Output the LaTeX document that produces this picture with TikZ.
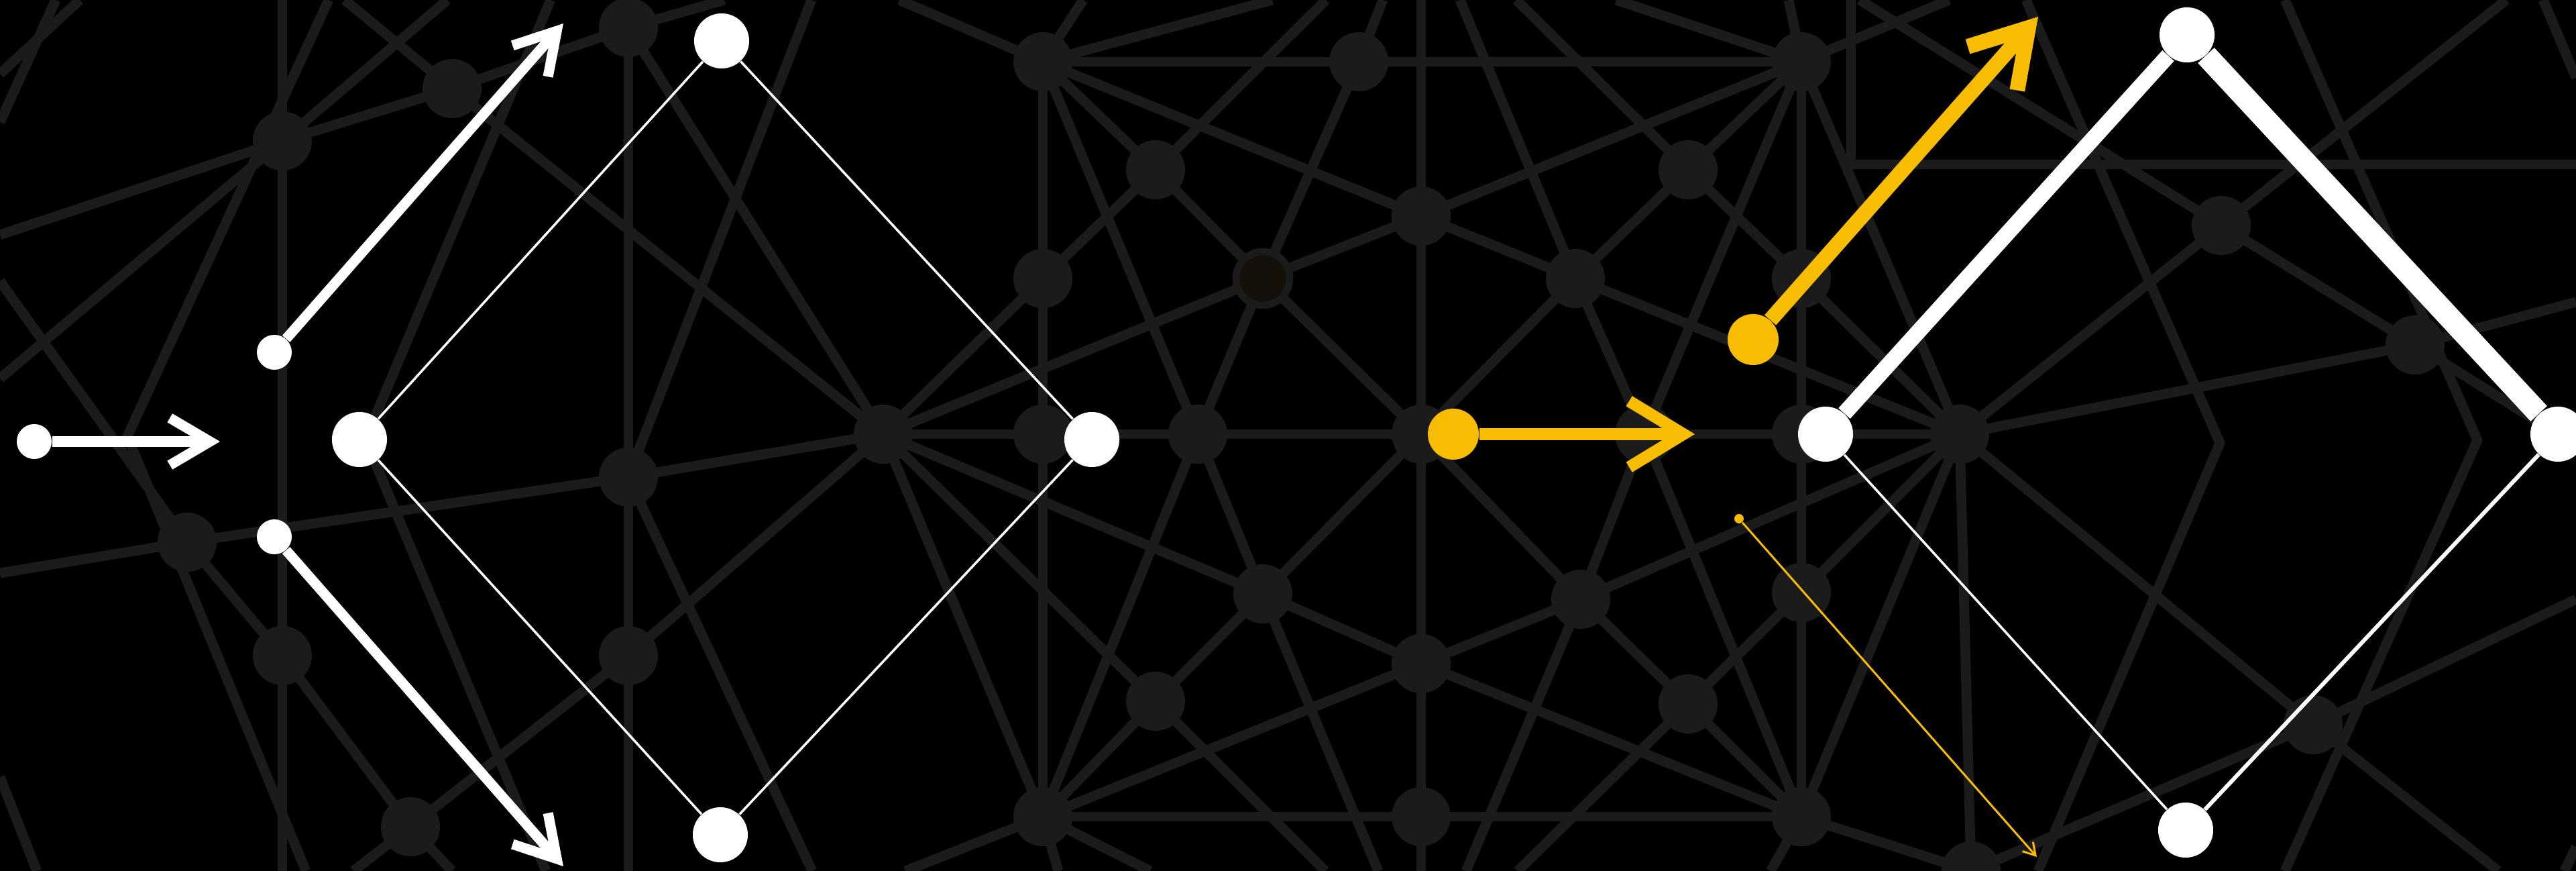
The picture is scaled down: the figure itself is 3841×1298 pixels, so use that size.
\documentclass[tikz,border=0pt]{standalone}
\usetikzlibrary{arrows.meta}
\definecolor{meshgray}{HTML}{1B1B1B}
\definecolor{meshbrown}{HTML}{15110A}
\definecolor{amber}{HTML}{F8BC00}
\begin{document}
\begin{tikzpicture}[x=0.01cm, y=-0.01cm,
    mesh/.style={draw=meshgray, line width=4.2pt, line join=round},
    knot/.style={circle, fill=meshgray, inner sep=0pt, minimum size=0.88cm},
    dot/.style={circle, fill=white, inner sep=0pt, minimum size=#1},
    amberdot/.style={circle, fill=amber, inner sep=0pt, minimum size=#1},
    whitearrow/.style={draw=white, line width=4.3pt, -{Straight Barb[length=17pt, width=20pt]}},
    amberarrow/.style={draw=amber, line width=#1, -{Straight Barb[length=23pt, width=28pt]}}]

    % Background
    \fill[black] (0,0) rectangle (3841,1298);
    \clip (0,0) rectangle (3841,1298);

    % Mesh points
    \foreach \n/\x/\y in {a/421/210, b/674/132, c/937/41, d/279/808, e/421/977,
        f/612/1232, h/937/711, i/937/977, g/1317/647,
        n1/1555/92, n2/2026/92, n3/1723/253, n4/2119/322, n5/1555/415,
        n6/1883/415, n7/2349/415, n8/2517/253, n9/1555/647, n10/1786/647,
        hub/2119/647, p/2452/647, n12/1883/885, n13/2119/989, n14/2357/893,
        n15/1723/1045, n16/2517/1049, n17/1555/1217, n18/2119/1217,
        n19/2686/92, n20/2686/415, n21/2686/647, n22/2922/647, n23/2686/883,
        n24/2686/1217, n26/3312/336, n27/3601/514, n28/3449/1080, n29/2939/1298}
        \coordinate (\n) at (\x,\y);

    % Mesh, left part
    \draw[mesh] (0,110) -- (119,0);
    \draw[mesh] (0,182) -- (83,0);
    \draw[mesh] (0,350) -- (a) -- (b) -- (c) -- (1080,0);
    \draw[mesh] (421,0) -- (421,1298);
    \draw[mesh] (937,0) -- (937,1298);
    \draw[mesh] (0,564) -- (a) -- (667,0);
    \draw[mesh] (490,0) -- (190,650) -- (456,1298);
    \draw[mesh] (0,419) -- (d) -- (e) -- (f) -- (674,1298);
    \draw[mesh] (514,0) -- (b) -- (g);
    \draw[mesh] (821,0) -- (545,655) -- (814,1298);
    \draw[mesh] (c) -- (g);
    \draw[mesh] (1210,0) -- (h) -- (1211,1298);
    \draw[mesh] (0,854) -- (d) -- (h) -- (g);
    \draw[mesh] (527,1298) -- (f) -- (i) -- (g);
    \draw[mesh] (0,1158) -- (55,1298);

    % Mesh, middle part
    \draw[mesh] (g) -- (n22);
    \draw[mesh] (n1) -- (n19);
    \draw[mesh] (2760,0) -- (2760,245) -- (3841,245);
    \draw[mesh] (n1) -- (n17);
    \draw[mesh] (2119,0) -- (2119,1298);
    \draw[mesh] (n19) -- (n24);
    \draw[mesh] (n17) -- (n24);
    \draw[mesh] (n1) -- (n3) -- (n6) -- (hub) -- (n14) -- (n16) -- (n24);
    \draw[mesh] (n19) -- (n8) -- (n7) -- (hub) -- (n12) -- (n15) -- (n17);
    \draw[mesh] (g) -- (n5) -- (n3) -- (1977,0);
    \draw[mesh] (2261,0) -- (n8) -- (n20) -- (n22);
    \draw[mesh] (g) -- (n15) -- (1976,1298);
    \draw[mesh] (n22) -- (n23) -- (n16) -- (2263,1298);
    \draw[mesh] (n1) -- (n10) -- (n12) -- (2055,1298);
    \draw[mesh] (n19) -- (p) -- (n14) -- (2186,1298);
    \draw[mesh] (n17) -- (n10) -- (n6) -- (n2) -- (2062,0);
    \draw[mesh] (n24) -- (p) -- (n7) -- (2177,0);
    \draw[mesh] (n1) -- (n4) -- (n7) -- (n22);
    \draw[mesh] (n19) -- (n4) -- (n6) -- (g);
    \draw[mesh] (n17) -- (n13) -- (n14) -- (n22);
    \draw[mesh] (n24) -- (n13) -- (n12) -- (g);
    \draw[mesh] (g) -- (n17);
    \draw[mesh] (1341,0) -- (n1) -- (1615,0);
    \draw[mesh] (n1) -- (1897,0);
    \draw[mesh] (2667,0) -- (n19) -- (2906,0);
    \draw[mesh] (n19) -- (2410,0);
    \draw[mesh] (1350,1298) -- (n17) -- (1578,1298);
    \draw[mesh] (n17) -- (1715,1298);
    \draw[mesh] (2640,1298) -- (n24) -- (n29);

    % Mesh, right part
    \draw[mesh] (n22) -- (n29);
    \draw[mesh] (n19) -- (n22) -- (n24);
    \draw[mesh] (n22) -- (n26) -- (3737,0);
    \draw[mesh] (n22) -- (n27) -- (3841,450);
    \draw[mesh] (n22) -- (n28) -- (3725,1298);
    \draw[mesh] (2773,0) -- (n26) -- (n27) -- (3814,647);
    \draw[mesh] (3021,0) -- (3310,660) -- (3039,1298);
    \draw[mesh] (3407,0) -- (3694,656) -- (3407,1298);
    \draw[mesh] (3792,0) -- (3841,116);
    \draw[mesh] (n29) -- (n28) -- (3841,893);
    \draw[mesh] (3841,1262) -- (3824,1298);

    % Mesh knots
    \foreach \n in {a,b,c,d,e,f,h,i,g,n1,n2,n3,n4,n5,n7,n8,n9,n10,hub,p,
        n12,n13,n14,n15,n16,n17,n18,n19,n20,n21,n22,n23,n24,n26,n27,n28,n29}
        \node[knot] (k-\n) at (\n) {};
    \node[circle, fill=meshbrown, draw=meshgray, line width=3pt, inner sep=0pt,
        minimum size=0.8cm] (k-n6) at (n6) {};

    % Splitting arrows
    \node[dot=0.52cm] (src) at (51,658) {};
    \node[dot=0.52cm] (up) at (409,525) {};
    \node[dot=0.52cm] (down) at (409,800) {};
    \coordinate (srcTip) at (328,658);
    \coordinate (upTip) at (840,35);
    \coordinate (downTip) at (840,1291);
    \draw[whitearrow] (src) -- (srcTip);
    \draw[whitearrow] (up) -- (upTip);
    \draw[whitearrow] (down) -- (downTip);

    % Left square
    \node[dot=0.82cm] (lsW) at (536,655) {};
    \node[dot=0.82cm] (lsN) at (1076,61) {};
    \node[dot=0.82cm] (lsE) at (1628,655) {};
    \node[dot=0.82cm] (lsS) at (1074,1244) {};
    \draw[white, line width=1pt] (lsW) -- (lsN) -- (lsE) -- (lsS) -- (lsW);

    % Yellow arrows
    \node[amberdot=0.76cm] (push) at (2167,647) {};
    \coordinate (pushTip) at (2527,647);
    \draw[amberarrow=5pt] (push) -- (pushTip);
    \node[amberdot=0.76cm] (lift) at (2614,506) {};
    \coordinate (liftTip) at (3039,25);
    \draw[amberarrow=6.5pt] (lift) -- (liftTip);
    \node[amberdot=0.14cm] (drop) at (2593,773) {};
    \coordinate (dropTip) at (3037,1277);
    \draw[amber, line width=0.85pt, -{Straight Barb[length=5pt, width=6pt]}] (drop) -- (dropTip);

    % Right square
    \node[dot=0.82cm] (rsW) at (2722,647) {};
    \node[dot=0.82cm] (rsN) at (3261,52) {};
    \node[dot=0.82cm] (rsE) at (3814,647) {};
    \node[dot=0.82cm] (rsS) at (3259,1237) {};
    \draw[white, line width=6.7pt] (rsW) -- (rsN);
    \draw[white, line width=9.5pt] (rsN) -- (rsE);
    \draw[white, line width=1.7pt] (rsE) -- (rsS);
    \draw[white, line width=1pt] (rsS) -- (rsW);
\end{tikzpicture}
\end{document}
